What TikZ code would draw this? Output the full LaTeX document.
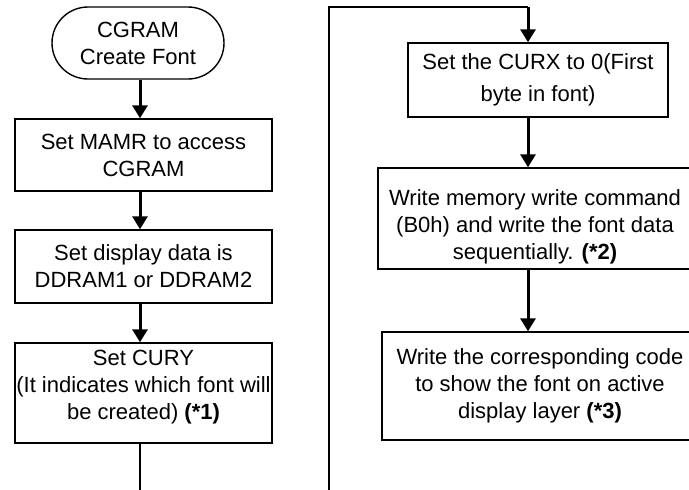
\documentclass[tikz,border=0pt]{standalone}
\usepackage{fontspec}
\setmainfont{Liberation Sans}
\usetikzlibrary{arrows.meta}
\begin{document}
\begin{tikzpicture}[x=1pt,y=-1pt,
  txt/.style={align=center,inner sep=0pt,font=\fontsize{22}{27}\selectfont},
  box/.style={txt,draw,line width=1.4pt,rectangle},
  term/.style={box,rounded corners=36pt},
  arr/.style={line width=3pt,-{Triangle[length=13pt,width=15pt]}},
  ln/.style={line width=1.4pt}]
\useasboundingbox (0,0) rectangle (689,490);
\node[term,minimum width=172pt,minimum height=72pt] (t) at (138,43) {CGRAM\\Create Font};
\node[box,minimum width=257pt,minimum height=72pt] (b2) at (143.5,155) {Set MAMR to access\\CGRAM};
\node[box,minimum width=257pt,minimum height=73pt] (b3) at (143.5,266.5) {Set display data is\\DDRAM1 or DDRAM2};
\node[box,minimum width=257pt,minimum height=100pt,text depth=0pt] (b4) at (143.5,393) {Set CURY\\(It indicates which font will\\be created) \textbf{(*1)}\\[-10pt]};
\node[box,minimum width=260pt,minimum height=74pt] (b5) at (538,80) {Set the CURX to 0(First\\[5pt]byte in font)};
\node[box,minimum width=314pt,minimum height=101pt] (b6) at (535,218.5) {};
\node[txt] (b6t) at ([yshift=-8pt]b6.center) {Write memory write command\\(B0h) and write the font data\\sequentially. \textbf{(*2)}};
\node[box,minimum width=316pt,minimum height=108pt] (b7) at (540,386) {Write the corresponding code\\to show the font on active\\display layer \textbf{(*3)}};
\coordinate (cl) at (140,0);
\coordinate (cr) at (528,0);
\coordinate (lb) at (140,490);
\coordinate (rb) at (329,490);
\coordinate (rt) at (329,7);
\coordinate (ra) at (528,7);
\draw[arr] (t.south -| cl) -- (b2.north -| cl);
\draw[arr] (b2.south -| cl) -- (b3.north -| cl);
\draw[arr] (b3.south -| cl) -- (b4.north -| cl);
\draw[ln] (b4.south -| cl) -- (lb);
\draw[ln] (rb) -- (rt) -- (ra);
\draw[arr] (ra) -- (b5.north -| cr);
\draw[arr] (b5.south -| cr) -- (b6.north -| cr);
\draw[arr] (b6.south -| cr) -- (b7.north -| cr);
\end{tikzpicture}
\end{document}
